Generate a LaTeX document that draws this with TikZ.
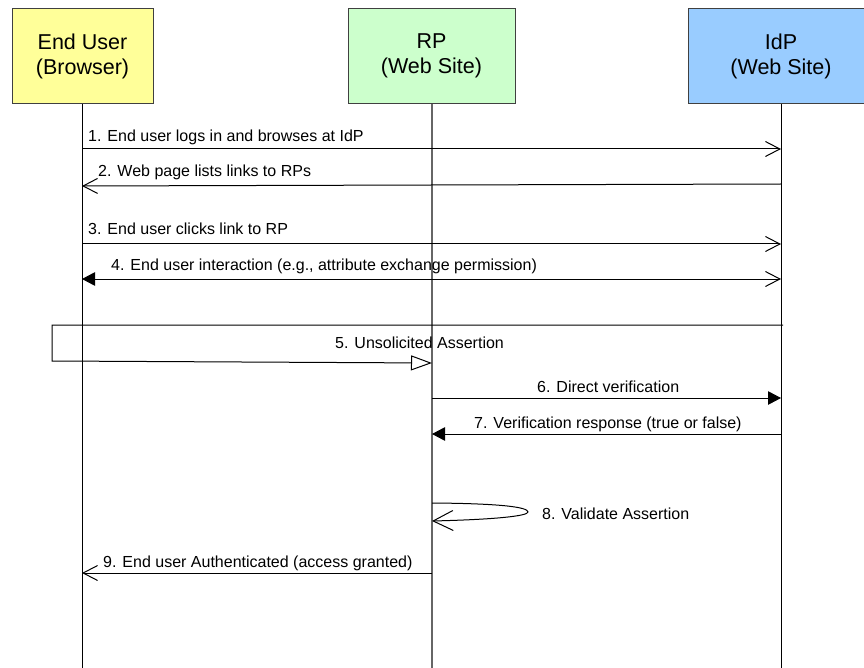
\documentclass[tikz,border=0pt]{standalone}
\usepackage{fontspec}
\setmainfont{Liberation Sans}
\usetikzlibrary{arrows.meta}
\definecolor{euyellow}{HTML}{FFFF99}
\definecolor{rpgreen}{HTML}{CCFFCC}
\definecolor{idpblue}{HTML}{99CCFF}
\definecolor{boxline}{HTML}{404040}
\begin{document}
\begin{tikzpicture}[x=1pt,y=-1pt,
  actor/.style={draw=boxline, line width=1pt, minimum height=95pt, align=center,
    inner sep=0pt, font=\fontsize{21.5}{25}\selectfont},
  lifeline/.style={line width=1pt, black},
  msg/.style={line width=1pt, black},
  lbl/.style={anchor=base west, inner sep=0pt, font=\fontsize{16}{19}\selectfont},
  barb/.tip={Straight Barb[length=14.5pt,width=15pt]},
  bigbarb/.tip={Straight Barb[length=20pt,width=20pt]},
  solid tri/.tip={Triangle[length=13pt,width=13.5pt]},
  hollow tri/.tip={Triangle[length=21pt,width=15pt,fill=white]}]
\useasboundingbox (0,0) rectangle (864,668);
\fill[white] (0,0) rectangle (864,668);

% participants
\node[actor, fill=euyellow, minimum width=141pt] (eu) at (82.5,56) {End User\\(Browser)};
\node[actor, fill=rpgreen, minimum width=167pt] (rp) at (431.5,56) {RP\\(Web Site)};
\node[actor, fill=idpblue, minimum width=186pt] (idp) at (781,56) {IdP\\(Web Site)};

% lifelines
\coordinate (euEnd) at (82,668);
\coordinate (rpEnd) at (432,668);
\coordinate (idpEnd) at (781,668);
\draw[lifeline] (eu.south -| euEnd) -- (euEnd);
\draw[lifeline, draw=gray!80!black, line width=1.3pt] (rp.south -| rpEnd) -- (rpEnd);
\draw[lifeline] (idp.south -| idpEnd) -- (idpEnd);

% message end points on the lifelines
\coordinate (e1) at (82,149);  \coordinate (i1) at (781,149);
\coordinate (e2) at (82,186);  \coordinate (i2) at (781,184);
\coordinate (e3) at (82,244);  \coordinate (i3) at (781,244);
\coordinate (e4) at (82,279);  \coordinate (i4) at (781,279);
\coordinate (i5) at (783,325); \coordinate (k5a) at (52,325);
\coordinate (k5b) at (52,361); \coordinate (r5) at (432,363);
\coordinate (r6) at (432,398); \coordinate (i6) at (781,398);
\coordinate (r7) at (432,434); \coordinate (i7) at (781,434);
\coordinate (r8a) at (432,503); \coordinate (t8) at (528,512); \coordinate (r8b) at (432,521);
\coordinate (r9) at (432,573); \coordinate (e9) at (82,573);

% messages
\draw[msg, -barb] (e1) -- (i1);
\node[lbl] (l1) at (88,142) {1. End user logs in and browses at IdP};

\draw[msg, -barb] (i2) -- (e2);
\node[lbl] (l2) at (98,177) {2. Web page lists links to RPs};

\draw[msg, -barb] (e3) -- (i3);
\node[lbl] (l3) at (88,235) {3. End user clicks link to RP};

\draw[msg, solid tri-barb] (e4) -- (i4);
\node[lbl] (l4) at (111,270) {4. End user interaction (e.g., attribute exchange permission)};

\draw[msg, -hollow tri] (i5) -- (k5a) -- (k5b) -- (r5);
\node[lbl] (l5) at (335,348) {5. Unsolicited Assertion};

\draw[msg, -solid tri] (r6) -- (i6);
\node[lbl] (l6) at (537,392) {6. Direct verification};

\draw[msg, -solid tri] (i7) -- (r7);
\node[lbl] (l7) at (474,428) {7. Verification response (true or false)};

\draw[msg, -bigbarb] (r8a) .. controls (500,503.5) and (528,507) .. (t8)
  .. controls (528,516) and (495,519.5) .. (r8b);
\node[lbl] (l8) at (542,519) {8. Validate Assertion};

\draw[msg, -barb] (r9) -- (e9);
\node[lbl] (l9) at (103,567) {9. End user Authenticated (access granted)};
\end{tikzpicture}
\end{document}
